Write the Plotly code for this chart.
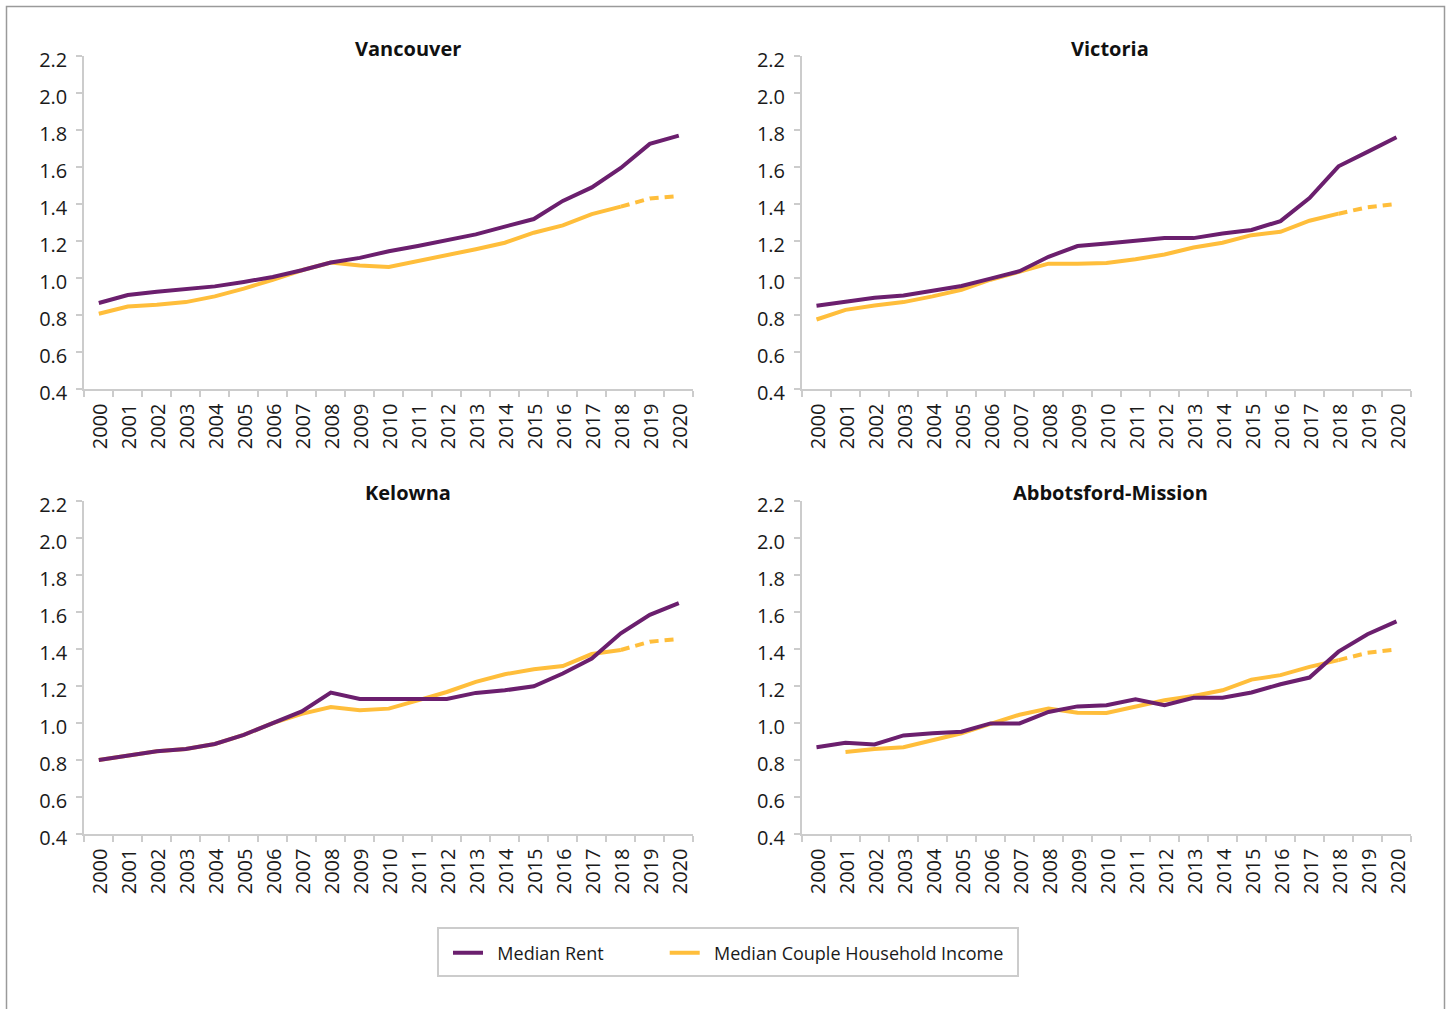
import plotly.graph_objects as go

YEARS = [str(y) for y in range(2000, 2021)]
CITIES = ["Vancouver", "Victoria", "Kelowna", "Abbotsford-Mission"]

vancouver_rent = [0.862, 0.905, 0.923, 0.940, 0.952, 0.976, 1.003, 1.039, 1.081, 1.106, 1.142,
                  1.170, 1.200, 1.233, 1.275, 1.316, 1.414, 1.487, 1.592, 1.722, 1.767]
vancouver_income = [0.804, 0.843, 0.853, 0.867, 0.898, 0.940, 0.988, 1.039, 1.081, 1.065, 1.057,
                    1.088, 1.121, 1.153, 1.188, 1.242, 1.282, 1.343, 1.383, 1.427, 1.441]

victoria_rent = [0.847, 0.871, 0.891, 0.903, 0.927, 0.954, 0.994, 1.034, 1.112, 1.170, 1.184,
                 1.199, 1.213, 1.213, 1.238, 1.257, 1.305, 1.429, 1.601, 1.679, 1.758]
victoria_income = [0.773, 0.825, 0.849, 0.867, 0.898, 0.934, 0.988, 1.030, 1.075, 1.075, 1.079,
                   1.099, 1.124, 1.162, 1.188, 1.229, 1.247, 1.307, 1.345, 1.380, 1.398]

kelowna_rent = [0.797, 0.819, 0.845, 0.857, 0.884, 0.933, 0.997, 1.060, 1.162, 1.127, 1.127,
                1.127, 1.127, 1.160, 1.174, 1.196, 1.265, 1.346, 1.482, 1.582, 1.645]
kelowna_income = [0.797, 0.819, 0.845, 0.857, 0.884, 0.933, 0.997, 1.047, 1.084, 1.066, 1.075,
                  1.120, 1.165, 1.220, 1.261, 1.288, 1.305, 1.370, 1.392, 1.437, 1.451]

abbotsford_rent = [0.866, 0.890, 0.881, 0.930, 0.942, 0.950, 0.995, 0.995, 1.057, 1.087, 1.093,
                   1.125, 1.093, 1.134, 1.134, 1.162, 1.207, 1.243, 1.383, 1.477, 1.547]
abbotsford_income = [None, 0.841, 0.857, 0.866, 0.906, 0.942, 0.993, 1.042, 1.075, 1.053, 1.051,
                     1.084, 1.120, 1.143, 1.174, 1.232, 1.256, 1.301, 1.337, 1.377, 1.395]

Y_TICKS = [0.4, 0.6, 0.8, 1.0, 1.2, 1.4, 1.6, 1.8, 2.0, 2.2]

RENT = [vancouver_rent, victoria_rent, kelowna_rent, abbotsford_rent]
INCOME = [vancouver_income, victoria_income, kelowna_income, abbotsford_income]
LAST_ACTUAL = 18  # index of 2018; later income values are projected (dotted)

PURPLE = "#6B1F6E"
YELLOW = "#FFBE3B"
AXIS_GREY = "#CCCCCC"
FONT = "Open Sans"
NBSP = "\u00a0"

W, H = 1449, 1009
# panel pixel boxes: (x0, x1, ytop, ybottom)
boxes = [(84.3, 693.3, 55.5, 388.5), (802, 1411, 55.5, 388.5),
         (84.3, 693.3, 500.5, 833.5), (802, 1411, 500.5, 833.5)]
title_x = [408, 1110, 408, 1110]
title_y = [48, 48, 493, 493]

fig = go.Figure()
layout = dict(
    template="none",
    width=W, height=H,
    margin=dict(l=0, r=0, t=0, b=0, autoexpand=False),
    paper_bgcolor="white", plot_bgcolor="white",
    font=dict(family=FONT, size=20, color="#1a1a1a"),
    showlegend=True,
    legend=dict(orientation="h", x=448 / W, y=1 - 953 / H,
                xanchor="left", yanchor="middle",
                borderwidth=0, bgcolor="rgba(0,0,0,0)",
                font=dict(family=FONT, size=18, color="#1a1a1a"),
                itemwidth=30, tracegroupgap=0, traceorder="normal"),
)
annotations = []
for i, city in enumerate(CITIES):
    n = i + 1
    xa = "x" if n == 1 else f"x{n}"
    ya = "y" if n == 1 else f"y{n}"
    x0, x1, yt, yb = boxes[i]
    layout["xaxis" if n == 1 else f"xaxis{n}"] = dict(
        domain=[x0 / W, x1 / W], anchor=ya, type="category", automargin=False,
        range=[-0.5, 20.5], tickmode="array", tickvals=YEARS, ticktext=YEARS,
        tickson="boundaries", ticks="outside", ticklen=6, tickwidth=2, tickcolor=AXIS_GREY,
        showline=True, linecolor=AXIS_GREY, linewidth=2, showgrid=False, zeroline=False,
        tickangle=-90, tickfont=dict(family=FONT, size=20, color="#1a1a1a"),
        ticklabelstandoff=5, ticklabelshift=2, fixedrange=True,
    )
    layout["yaxis" if n == 1 else f"yaxis{n}"] = dict(
        domain=[1 - yb / H, 1 - yt / H], anchor=xa, automargin=False,
        range=[0.4, 2.2], tickmode="array", tickvals=Y_TICKS,
        ticktext=[f"{v:.1f}" for v in Y_TICKS],
        ticks="outside", ticklen=6, tickwidth=2, tickcolor=AXIS_GREY,
        showline=True, linecolor=AXIS_GREY, linewidth=2, showgrid=False, zeroline=False,
        tickfont=dict(family=FONT, size=20, color="#1a1a1a"), ticklabelstandoff=5,
        ticklabelshift=4, fixedrange=True,
    )
    annotations.append(dict(text=f"<b>{city}</b>", x=title_x[i] / W, y=1 - title_y[i] / H,
                            xref="paper", yref="paper", showarrow=False,
                            xanchor="center", yanchor="middle",
                            font=dict(family=FONT, size=20, color="#111111")))
    inc = INCOME[i]
    fig.add_trace(go.Scatter(x=YEARS, y=RENT[i], mode="lines",
                             line=dict(color=PURPLE, width=4),
                             name=NBSP * 2 + "Median Rent" + NBSP * 12,
                             showlegend=(i == 0), legendrank=1, xaxis=xa, yaxis=ya,
                             hoverinfo="x+y"))
    fig.add_trace(go.Scatter(x=YEARS[:LAST_ACTUAL + 1], y=inc[:LAST_ACTUAL + 1], mode="lines",
                             line=dict(color=YELLOW, width=4),
                             name=NBSP * 2 + "Median Couple Household Income",
                             showlegend=(i == 0), legendrank=2, xaxis=xa, yaxis=ya,
                             hoverinfo="x+y"))
    fig.add_trace(go.Scatter(x=YEARS[LAST_ACTUAL:], y=inc[LAST_ACTUAL:], mode="lines",
                             line=dict(color=YELLOW, width=4, dash="9px,6px"),
                             showlegend=False, xaxis=xa, yaxis=ya, hoverinfo="x+y"))

# draw income first so the rent line sits on top
fig.data = tuple(sorted(fig.data, key=lambda t: 0 if t.line.color == YELLOW else 1))

layout["annotations"] = annotations
layout["shapes"] = [
    # outer frame (left, top, right edges)
    dict(type="path", xref="paper", yref="paper",
         path=f"M {6.5 / W},-0.05 L {6.5 / W},{1 - 6.5 / H} L {1444.5 / W},{1 - 6.5 / H} L {1444.5 / W},-0.05",
         line=dict(color="#9A9A9A", width=1.5)),
    # legend frame
    dict(type="rect", xref="paper", yref="paper",
         x0=438 / W, x1=1018 / W, y0=1 - 976 / H, y1=1 - 928 / H,
         line=dict(color="#CCCCCC", width=2), fillcolor="rgba(0,0,0,0)", layer="below"),
]
fig.update_layout(**layout)
fig.write_html("out.html", config={"displayModeBar": False},
               post_script="document.body.style.margin='0px';")
